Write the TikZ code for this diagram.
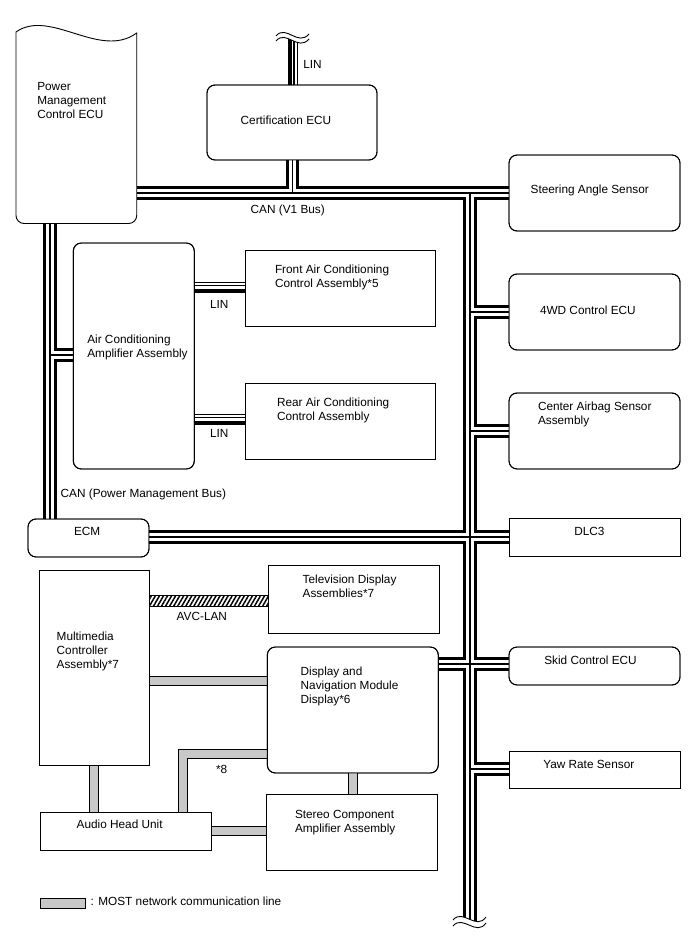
\documentclass[tikz,border=0pt]{standalone}
\usepackage{fontspec}
\setmainfont{Liberation Sans}
\usetikzlibrary{patterns.meta,calc}
\definecolor{mostgray}{RGB}{200,200,200}
\tikzset{
  box/.style={draw=black, line width=0.9pt, fill=white, inner sep=0pt, outer sep=0pt, anchor=north west},
  rbox/.style={box, rounded corners=8pt},
  txt/.style={inner sep=0pt, outer sep=0pt, anchor=north west, align=left, font=\fontsize{11.8}{14}\selectfont},
  canblack/.style={line width=13.2pt, black},
  canwhite/.style={line width=7.4pt, white},
  cancenter/.style={line width=1.4pt, black},
  linthin/.style={line width=1.1pt, black},
  linthick/.style={line width=4pt, black},
  mostouter/.style={line width=10pt, black, line join=miter},
  mostinner/.style={line width=8pt, mostgray, line join=miter},
  wave/.style={line width=0.9pt, black},
}
\newcommand\canlines[1]{%
  \draw[#1] (pecu.east |- yv1) -- (steer.west |- yv1);
  \draw[#1] (xcert |- cert.south) -- (xcert |- yv1);
  \draw[#1] (xtr |- yv1) -- (trend);
  \draw[#1] (xtr |- y4wd) -- (wd.west |- y4wd);
  \draw[#1] (xtr |- yair) -- (airbag.west |- yair);
  \draw[#1] (ecm.east |- yecm) -- (dlc.west |- yecm);
  \draw[#1] (disp.east |- yskid) -- (skid.west |- yskid);
  \draw[#1] (xtr |- yyaw) -- (yaw.west |- yyaw);
  \draw[#1] (xpm |- pecu.south) -- (xpm |- ecm.north);
  \draw[#1] (xpm |- yamp) -- (amp.west |- yamp);
}
\newcommand\linpair[3]{% horizontal LIN line between #1 and #2 at level #3
  \draw[linthin] ([yshift=5pt]#1 |- #3) -- ([yshift=5pt]#2 |- #3);
  \draw[linthin] ([yshift=2pt]#1 |- #3) -- ([yshift=2pt]#2 |- #3);
  \draw[linthick] ([yshift=-3pt]#1 |- #3) -- ([yshift=-3pt]#2 |- #3);
}
\newcommand\mostlines[1]{%
  \draw[#1] (mm.east |- ymost) -- (disp.west |- ymost);
  \draw[#1] (xmm |- mm.south) -- (xmm |- audio.north);
  \draw[#1] (disp.west |- yeight) -- (xeight |- yeight) -- (xeight |- audio.north);
  \draw[#1] (audio.east |- yst) -- (stereo.west |- yst);
  \draw[#1] (xds |- disp.south) -- (xds |- stereo.north);
}
\begin{document}
\begin{tikzpicture}[x=1pt, y=-1pt]
\useasboundingbox (0,0) rectangle (688,949);
% reference coordinates
\coordinate (yv1) at (0,193);
\coordinate (xcert) at (292.5,0);
\coordinate (xtr) at (470,0);
\coordinate (trend) at (470,925);
\coordinate (y4wd) at (0,312);
\coordinate (yair) at (0,431);
\coordinate (yecm) at (0,537);
\coordinate (yskid) at (0,664);
\coordinate (yyaw) at (0,769);
\coordinate (xpm) at (50,0);
\coordinate (yamp) at (0,355);
\coordinate (lintop) at (0,30);
\coordinate (ylinf) at (0,287.5);
\coordinate (ylinr) at (0,419.5);
\coordinate (ymost) at (0,680.5);
\coordinate (xmm) at (93.7,0);
\coordinate (yeight) at (0,754);
\coordinate (xeight) at (183,0);
\coordinate (yst) at (0,831);
\coordinate (xds) at (353,0);
\coordinate (avctop) at (0,595);
\coordinate (avcbot) at (0,606);

% boxes
\node[inner sep=0pt, outer sep=0pt, minimum width=120.7pt, minimum height=190pt, anchor=south west] (pecu) at (16,223.5) {};
\node[rbox, minimum width=170pt, minimum height=75pt] (cert) at (207,85) {};
\node[rbox, minimum width=171pt, minimum height=76pt] (steer) at (509,155) {};
\node[rbox, minimum width=171pt, minimum height=76pt] (wd) at (509,274) {};
\node[rbox, minimum width=171pt, minimum height=76pt] (airbag) at (509,393) {};
\node[box, minimum width=171pt, minimum height=38pt] (dlc) at (509,518) {};
\node[rbox, minimum width=171pt, minimum height=38pt] (skid) at (509,647) {};
\node[box, minimum width=171pt, minimum height=37pt] (yaw) at (509,751) {};
\node[rbox, minimum width=121pt, minimum height=226pt] (amp) at (73.3,243) {};
\node[box, minimum width=190pt, minimum height=76pt] (front) at (245.7,250) {};
\node[box, minimum width=190pt, minimum height=76pt] (rear) at (245.7,383) {};
\node[rbox, minimum width=121pt, minimum height=38pt] (ecm) at (28,519) {};
\node[box, minimum width=110pt, minimum height=195pt] (mm) at (39.3,570) {};
\node[box, minimum width=171pt, minimum height=68pt] (tv) at (268,565) {};
\node[rbox, minimum width=171pt, minimum height=126pt] (disp) at (267.3,647) {};
\node[box, minimum width=171pt, minimum height=38pt] (audio) at (40,812) {};
\node[box, minimum width=171pt, minimum height=76pt] (stereo) at (266.7,794) {};
\node[box, fill=mostgray, minimum width=45pt, minimum height=10pt] (legend) at (40.7,898.3) {};

% CAN buses
\canlines{canblack}
\canlines{canwhite}
\canlines{cancenter}
% LIN lines
\draw[linthick] ([xshift=-3pt]xcert |- lintop) -- ([xshift=-3pt]xcert |- cert.north);
\draw[linthin] ([xshift=1.5pt]xcert |- lintop) -- ([xshift=1.5pt]xcert |- cert.north);
\draw[linthin] ([xshift=5pt]xcert |- lintop) -- ([xshift=5pt]xcert |- cert.north);
\linpair{amp.east}{front.west}{ylinf}
\linpair{amp.east}{rear.west}{ylinr}
% MOST lines
\mostlines{mostouter}
\mostlines{mostinner}
% AVC-LAN
\draw[line width=0.8pt, pattern={Lines[angle=60, distance=3.5pt, line width=1.5pt]}] (mm.east |- avctop) rectangle (tv.west |- avcbot);

% Power Management Control ECU outline
\draw[line width=0.9pt, fill=white] (16,32) .. controls (50,8) and (100,60) .. (136.7,33) -- (136.7,215.5) arc[start angle=0, end angle=90, radius=8] -- (24,223.5) arc[start angle=90, end angle=180, radius=8] -- cycle;

% redraw box outlines over bus ends
\foreach \n in {cert,steer,wd,airbag,skid,amp,ecm,disp}{\draw[line width=0.9pt, rounded corners=8pt] (\n.north west) rectangle (\n.south east);}
\foreach \n in {dlc,yaw,front,rear,mm,tv,audio,stereo}{\draw[line width=0.9pt] (\n.north west) rectangle (\n.south east);}

% break marks
\fill[white] (276,41) .. controls (286,29) and (298,52) .. (309,39) -- (309,20) -- (276,20) -- cycle;
\draw[wave] (276,41) .. controls (286,29) and (298,52) .. (309,39);
\draw[wave] (276,36) .. controls (286,24) and (298,47) .. (309,34);
\fill[white] (453,920) .. controls (463,908) and (476,931) .. (486,917) -- (486,945) -- (453,945) -- cycle;
\draw[wave] (453,920) .. controls (463,908) and (476,931) .. (486,917);
\draw[wave] (453,926) .. controls (463,914) and (476,937) .. (486,923);

% texts
\node[txt] (tpecu) at (37.3,82.3) {Power\\Management\\Control ECU};
\node[txt] (tlin1) at (303.3,60) {LIN};
\node[txt] (tcert) at (240.7,115.7) {Certification ECU};
\node[txt] (tcan1) at (250.7,205) {CAN (V1 Bus)};
\node[txt] (tsteer) at (530.7,185) {Steering Angle Sensor};
\node[txt] (twd) at (540,306) {4WD Control ECU};
\node[txt] (tair) at (538,402) {Center Airbag Sensor\\Assembly};
\node[txt] (tfront) at (275,265) {Front Air Conditioning\\Control Assembly*5};
\node[txt] (tamp) at (87.3,335) {Air Conditioning\\Amplifier Assembly};
\node[txt] (tlin2) at (210,300) {LIN};
\node[txt] (trear) at (277,398.3) {Rear Air Conditioning\\Control Assembly};
\node[txt] (tlin3) at (210,429) {LIN};
\node[txt] (tcanpm) at (60.7,489) {CAN (Power Management Bus)};
\node[txt] (tecm) at (74,527) {ECM};
\node[txt] (tdlc) at (574.3,527.7) {DLC3};
\node[txt] (ttv) at (302.7,575) {Television Display\\Assemblies*7};
\node[txt] (tavc) at (176.7,612) {AVC-LAN};
\node[txt] (tmm) at (56.7,632.3) {Multimedia\\Controller\\Assembly*7};
\node[txt] (tdisp) at (300.7,666.7) {Display and\\Navigation Module\\Display*6};
\node[txt] (tskid) at (544.3,655.7) {Skid Control ECU};
\node[txt] (tyaw) at (543.3,760) {Yaw Rate Sensor};
\node[txt] (teight) at (216,765) {*8};
\node[txt] (taudio) at (76.7,820) {Audio Head Unit};
\node[txt] (tstereo) at (295,810) {Stereo Component\\Amplifier Assembly};
\node[txt] (tlegend) at (90.7,896.7) {: MOST network communication line};
\end{tikzpicture}
\end{document}
